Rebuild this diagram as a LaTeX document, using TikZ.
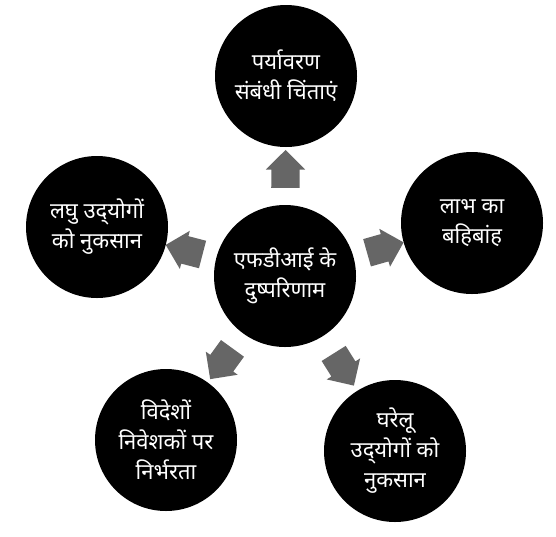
\documentclass[tikz,border=0pt]{standalone}
\usepackage{fontspec}
\newfontfamily\deva[Script=Devanagari]{Noto Sans}
\usetikzlibrary{shapes.arrows}
\definecolor{arrowgray}{RGB}{102,102,102}
\begin{document}
\begin{tikzpicture}[x=1pt,y=-1pt,
  bubble/.style={circle, fill=black, text=white, minimum size=142pt, inner sep=0pt, align=center, font=\deva\fontsize{22}{30}\selectfont},
  blockarrow/.style={single arrow, fill=arrowgray, draw=none, minimum height=38pt, inner xsep=0pt, inner ysep=14pt, single arrow head extend=5.5pt, sloped, allow upside down}]
\useasboundingbox[fill=white] (0,0) rectangle (556,536);
\node[bubble] (c) at (285,276) {एफडीआई के\\दुष्परिणाम};
\node[bubble] (t) at (286,76) {पर्यावरण\\संबंधी चिंताएं};
\node[bubble] (l) at (97,227) {लघु उद्^^^^200cयोगों\\को नुकसान};
\node[bubble] (r) at (472,223) {लाभ का\\बहिबांह};
\node[bubble] (bl) at (166,440) {विदेशों\\निवेशकों पर\\निर्भरता};
\node[bubble] (br) at (395,451) {घरेलू\\उद्^^^^200cयोगों को\\नुकसान};
\path (c) -- node[blockarrow] (at) {} (t);
\path (c) -- node[blockarrow] (al) {} (l);
\path (c) -- node[blockarrow] (ar) {} (r);
\path (c) -- node[blockarrow] (abl) {} (bl);
\path (c) -- node[blockarrow] (abr) {} (br);
\end{tikzpicture}
\end{document}
